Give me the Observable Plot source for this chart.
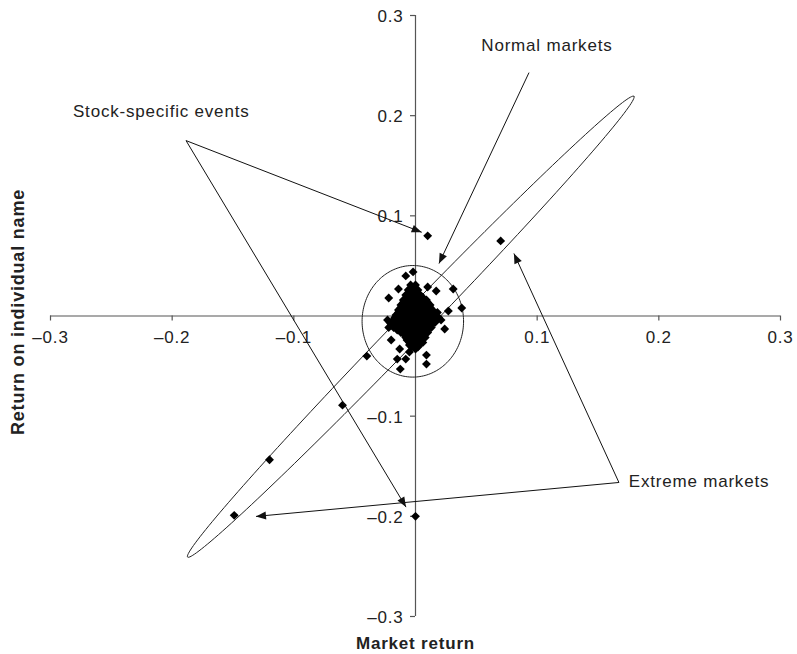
<!DOCTYPE html>
<html>
<head>
<meta charset="utf-8">
<script src="https://cdn.jsdelivr.net/npm/d3@7"></script>
<script src="https://cdn.jsdelivr.net/npm/@observablehq/plot@0.6"></script>
<style>
  body { margin: 0; background: #fff; }
  #chart svg text { letter-spacing: 0.8px; }
</style>
</head>
<body>
<div id="chart"></div>
<script>
// ---------- data ----------
// dense core of daily returns: [market return, return on individual name]
const coreReturns = [
  [-0.004, 0.031], [0.000, 0.031],
  [-0.006, 0.026], [-0.002, 0.026], [0.002, 0.026],
  [-0.008, 0.021], [-0.004, 0.021], [0.000, 0.021], [0.004, 0.021],
  [-0.010, 0.016], [-0.006, 0.016], [-0.002, 0.016], [0.002, 0.016], [0.006, 0.016], [0.009, 0.016],
  [-0.012, 0.011], [-0.008, 0.011], [-0.004, 0.011], [0.000, 0.011], [0.004, 0.011], [0.008, 0.011], [0.012, 0.011],
  [-0.014, 0.006], [-0.010, 0.006], [-0.006, 0.006], [-0.002, 0.006], [0.002, 0.006], [0.006, 0.006], [0.010, 0.006], [0.014, 0.006],
  [-0.016, 0.001], [-0.012, 0.001], [-0.008, 0.001], [-0.004, 0.001], [0.000, 0.001], [0.004, 0.001], [0.008, 0.001], [0.012, 0.001], [0.016, 0.001],
  [-0.018, -0.004], [-0.014, -0.004], [-0.010, -0.004], [-0.006, -0.004], [-0.002, -0.004], [0.002, -0.004], [0.006, -0.004], [0.010, -0.004], [0.014, -0.004], [0.017, -0.004],
  [-0.020, -0.009], [-0.016, -0.009], [-0.012, -0.009], [-0.008, -0.009], [-0.004, -0.009], [0.000, -0.009], [0.004, -0.009], [0.008, -0.009], [0.012, -0.009],
  [-0.015, -0.014], [-0.011, -0.014], [-0.007, -0.014], [-0.003, -0.014], [0.001, -0.014], [0.005, -0.014], [0.009, -0.014],
  [-0.009, -0.019], [-0.005, -0.019], [-0.001, -0.019], [0.003, -0.019], [0.007, -0.019],
  [-0.007, -0.024], [-0.003, -0.024], [0.001, -0.024], [0.005, -0.024],
  [-0.005, -0.029], [-0.001, -0.029], [0.003, -0.029],
  [0.000, -0.033],
  [-0.002, 0.0285],
  [-0.004, 0.0235], [0.000, 0.0235],
  [-0.006, 0.0185], [-0.002, 0.0185], [0.002, 0.0185], [0.006, 0.0185],
  [-0.010, 0.0135], [-0.006, 0.0135], [-0.002, 0.0135], [0.002, 0.0135], [0.006, 0.0135], [0.010, 0.0135],
  [-0.012, 0.0085], [-0.008, 0.0085], [-0.004, 0.0085], [0.000, 0.0085], [0.004, 0.0085], [0.008, 0.0085], [0.012, 0.0085],
  [-0.014, 0.0035], [-0.010, 0.0035], [-0.006, 0.0035], [-0.002, 0.0035], [0.002, 0.0035], [0.006, 0.0035], [0.010, 0.0035], [0.014, 0.0035], [0.018, 0.0035],
  [-0.017, -0.0015], [-0.013, -0.0015], [-0.009, -0.0015], [-0.005, -0.0015], [-0.001, -0.0015], [0.003, -0.0015], [0.007, -0.0015], [0.011, -0.0015], [0.015, -0.0015], [0.019, -0.0015],
  [-0.021, -0.0065], [-0.016, -0.0065], [-0.012, -0.0065], [-0.008, -0.0065], [-0.004, -0.0065], [0.000, -0.0065], [0.004, -0.0065], [0.008, -0.0065], [0.012, -0.0065], [0.016, -0.0065],
  [-0.022, -0.0115], [-0.018, -0.0115], [-0.014, -0.0115], [-0.010, -0.0115], [-0.006, -0.0115], [-0.002, -0.0115], [0.002, -0.0115], [0.006, -0.0115], [0.010, -0.0115], [0.013, -0.0115],
  [-0.012, -0.0165], [-0.009, -0.0165], [-0.005, -0.0165], [-0.001, -0.0165], [0.003, -0.0165], [0.007, -0.0165], [0.010, -0.0165],
  [-0.008, -0.0215], [-0.004, -0.0215], [0.000, -0.0215], [0.004, -0.0215], [0.008, -0.0215],
  [-0.005, -0.0265], [-0.001, -0.0265], [0.003, -0.0265], [0.006, -0.0265],
  [-0.003, -0.031], [0.002, -0.031]
];
// scattered returns outside the core
const outerReturns = [
  [0.010, 0.080], [0.070, 0.075], [-0.002, 0.044], [-0.008, 0.040], [-0.014, 0.027],
  [-0.022, 0.018], [0.010, 0.029], [0.017, 0.025], [0.031, 0.027], [0.038, 0.008],
  [0.027, 0.005], [0.021, -0.004], [0.024, -0.013], [-0.020, -0.024], [-0.023, -0.004],
  [-0.040, -0.040], [-0.013, -0.033], [-0.015, -0.043], [-0.008, -0.043], [-0.005, -0.036],
  [0.009, -0.039], [0.009, -0.048], [-0.0125, -0.053], [-0.060, -0.089], [-0.120, -0.1435],
  [-0.149, -0.199], [0.000, -0.200]
];

// tick values and labels
const xTicks = [-0.3, -0.2, -0.1, 0.1, 0.2, 0.3];
const xTickLabels = ["\u20130.3", "\u20130.2", "\u20130.1", "0.1", "0.2", "0.3"];
const yTicks = [0.3, 0.2, 0.1, -0.1, -0.2, -0.3];
const yTickLabels = ["0.3", "0.2", "0.1", "\u20130.1", "\u20130.2", "\u20130.3"];

// outline shapes (center, semi-axis A, conjugate semi-axis B), in data units
const shapeNames = ["extreme", "normal"];
const shapeCenters = [[-0.0039, -0.0107], [-0.0022, -0.0053]];
const shapeAxisA = [[0.1834, 0.2300], [0.0417, 0]];
const shapeAxisB = [[0.0083, -0.0097], [0, 0.0557]];

// annotations
const noteLabels = ["Normal markets", "Stock-specific events", "Extreme markets"];
const noteX = [0.108, -0.209, 0.233];
const noteY = [0.270, 0.204, -0.165];

// arrows: from [x1, y1] to [x2, y2]
const arrowFrom = [[-0.1886, 0.1751], [-0.1886, 0.1751], [0.0933, 0.243], [0.1672, -0.1662], [0.1672, -0.1662]];
const arrowTo = [[0.0051, 0.0836], [-0.0078, -0.1908], [0.0193, 0.0524], [0.0809, 0.0624], [-0.1311, -0.2001]];

const xTitle = "Market return";
const yTitle = "Return on individual name";

// ---------- build tables ----------
const points = coreReturns.concat(outerReturns).map(([m, n]) => ({m, n}));
const outline = [];
shapeNames.forEach((name, k) => {
  const [cx, cy] = shapeCenters[k], [ax, ay] = shapeAxisA[k], [bx, by] = shapeAxisB[k];
  for (let i = 0; i <= 180; i++) {
    const t = (i / 180) * 2 * Math.PI;
    outline.push({shape: name, x: cx + ax * Math.cos(t) + bx * Math.sin(t), y: cy + ay * Math.cos(t) + by * Math.sin(t)});
  }
});
const arrows = arrowFrom.map((f, i) => ({x1: f[0], y1: f[1], x2: arrowTo[i][0], y2: arrowTo[i][1]}));
const notes = noteLabels.map((t, i) => ({t, x: noteX[i], y: noteY[i]}));

function filledArrow(color) {
  const ns = "http://www.w3.org/2000/svg";
  const m = document.createElementNS(ns, "marker");
  m.setAttribute("viewBox", "-11 -5 12 10");
  m.setAttribute("markerWidth", 12);
  m.setAttribute("markerHeight", 10);
  m.setAttribute("refX", 0);
  m.setAttribute("refY", 0);
  m.setAttribute("orient", "auto");
  m.setAttribute("markerUnits", "userSpaceOnUse");
  const p = document.createElementNS(ns, "path");
  p.setAttribute("d", "M-10,-4L0,0L-10,4Z");
  p.setAttribute("fill", color);
  p.setAttribute("stroke", "none");
  m.appendChild(p);
  return m;
}

function build(marker) {
  const axisColor = "#555";
  return Plot.plot({
    width: 797,
    height: 654,
    marginLeft: 50,
    marginRight: 17,
    marginTop: 15,
    marginBottom: 38,
    x: {domain: [-0.3, 0.3], axis: null},
    y: {domain: [-0.3, 0.3], axis: null},
    style: {fontFamily: "'Liberation Sans', Arial, Helvetica, sans-serif", fontSize: "17px", color: "#222", background: "#fff"},
    marks: [
      Plot.ruleY([0], {x1: -0.3, x2: 0.3, stroke: axisColor, strokeWidth: 1.2}),
      Plot.ruleX([0], {y1: -0.3, y2: 0.3, stroke: axisColor, strokeWidth: 1.2}),
      Plot.ruleX(xTicks, {x: d => d, y1: 0, y2: 0, insetBottom: -5, stroke: axisColor, strokeWidth: 1.2}),
      Plot.ruleY(yTicks, {y: d => d, x1: 0, x2: 0, insetLeft: -5, stroke: axisColor, strokeWidth: 1.2}),
      Plot.text(xTicks, {x: d => d, y: 0, text: (d, i) => xTickLabels[i], dy: 22, fill: "#222"}),
      Plot.text(yTicks, {x: 0, y: d => d, text: (d, i) => yTickLabels[i], dx: -12, dy: 1, textAnchor: "end", fill: "#222"}),
      Plot.line(outline, {x: "x", y: "y", z: "shape", stroke: "#222", strokeWidth: 1}),
      Plot.dot(points, {x: "m", y: "n", symbol: "diamond2", r: 4, fill: "#000", stroke: "none"}),
      Plot.link(arrows, {x1: "x1", y1: "y1", x2: "x2", y2: "y2", stroke: "#111", strokeWidth: 1, markerEnd: marker}),
      Plot.text(notes, {x: "x", y: "y", text: "t", fill: "#222"}),
      Plot.text([xTitle], {x: 0, y: -0.3, text: d => d, dy: 27, fontWeight: "bold", fill: "#222"}),
      Plot.text([yTitle], {x: -0.3, y: 0, text: d => d, dx: -32, dy: -4, rotate: -90, fontSize: 18, fontWeight: "bold", fill: "#222"})
    ]
  });
}

let chart;
try {
  chart = build(filledArrow);
} catch (e) {
  chart = build("arrow");
}
document.getElementById("chart").appendChild(chart);
</script>
</body>
</html>
